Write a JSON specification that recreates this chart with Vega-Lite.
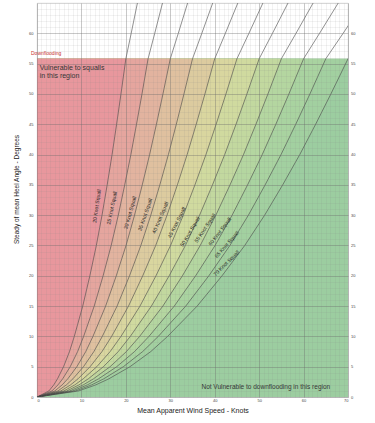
{
  "$schema": "https://vega.github.io/schema/vega-lite/v6.json",
  "width": 311,
  "height": 394,
  "autosize": {"type": "none"},
  "padding": {"left": 37, "top": 3, "right": 27, "bottom": 26},
  "background": "white",
  "config": {
    "font": "Liberation Sans",
    "view": {"stroke": "#cfcfcf", "strokeWidth": 0.8}
  },
  "datasets": {
    "curves": [
      {"S":20,"h":0,"v":0},{"S":20,"h":1,"v":2.68},{"S":20,"h":2,"v":3.78},{"S":20,"h":3,"v":4.62},{"S":20,"h":5,"v":5.98},{"S":20,"h":7.5,"v":7.32},{"S":20,"h":10,"v":8.4},{"S":20,"h":15,"v":10.3},{"S":20,"h":20,"v":11.9},{"S":20,"h":25,"v":13.36},{"S":20,"h":30,"v":14.64},{"S":20,"h":35,"v":15.8},{"S":20,"h":40,"v":16.9},{"S":20,"h":45,"v":17.92},{"S":20,"h":50,"v":18.9},{"S":20,"h":55.8,"v":20},{"S":20,"h":60,"v":21.2},{"S":20,"h":65,"v":22.6},
      {"S":25,"h":0,"v":0},{"S":25,"h":1,"v":3.35},{"S":25,"h":2,"v":4.73},{"S":25,"h":3,"v":5.78},{"S":25,"h":5,"v":7.48},{"S":25,"h":7.5,"v":9.15},{"S":25,"h":10,"v":10.5},{"S":25,"h":15,"v":12.88},{"S":25,"h":20,"v":14.88},{"S":25,"h":25,"v":16.7},{"S":25,"h":30,"v":18.3},{"S":25,"h":35,"v":19.75},{"S":25,"h":40,"v":21.13},{"S":25,"h":45,"v":22.4},{"S":25,"h":50,"v":23.63},{"S":25,"h":55.8,"v":25},{"S":25,"h":60,"v":26.5},{"S":25,"h":65,"v":28.25},
      {"S":30,"h":0,"v":0},{"S":30,"h":1,"v":4.02},{"S":30,"h":2,"v":5.67},{"S":30,"h":3,"v":6.93},{"S":30,"h":5,"v":8.97},{"S":30,"h":7.5,"v":10.98},{"S":30,"h":10,"v":12.6},{"S":30,"h":15,"v":15.45},{"S":30,"h":20,"v":17.85},{"S":30,"h":25,"v":20.04},{"S":30,"h":30,"v":21.96},{"S":30,"h":35,"v":23.7},{"S":30,"h":40,"v":25.35},{"S":30,"h":45,"v":26.88},{"S":30,"h":50,"v":28.35},{"S":30,"h":55.8,"v":30},{"S":30,"h":60,"v":31.8},{"S":30,"h":65,"v":33.9},
      {"S":35,"h":0,"v":0},{"S":35,"h":1,"v":4.69},{"S":35,"h":2,"v":6.62},{"S":35,"h":3,"v":8.09},{"S":35,"h":5,"v":10.47},{"S":35,"h":7.5,"v":12.81},{"S":35,"h":10,"v":14.7},{"S":35,"h":15,"v":18.03},{"S":35,"h":20,"v":20.83},{"S":35,"h":25,"v":23.38},{"S":35,"h":30,"v":25.62},{"S":35,"h":35,"v":27.65},{"S":35,"h":40,"v":29.58},{"S":35,"h":45,"v":31.36},{"S":35,"h":50,"v":33.08},{"S":35,"h":55.8,"v":35},{"S":35,"h":60,"v":37.1},{"S":35,"h":65,"v":39.55},
      {"S":40,"h":0,"v":0},{"S":40,"h":1,"v":5.36},{"S":40,"h":2,"v":7.56},{"S":40,"h":3,"v":9.24},{"S":40,"h":5,"v":11.96},{"S":40,"h":7.5,"v":14.64},{"S":40,"h":10,"v":16.8},{"S":40,"h":15,"v":20.6},{"S":40,"h":20,"v":23.8},{"S":40,"h":25,"v":26.72},{"S":40,"h":30,"v":29.28},{"S":40,"h":35,"v":31.6},{"S":40,"h":40,"v":33.8},{"S":40,"h":45,"v":35.84},{"S":40,"h":50,"v":37.8},{"S":40,"h":55.8,"v":40},{"S":40,"h":60,"v":42.4},{"S":40,"h":65,"v":45.2},
      {"S":45,"h":0,"v":0},{"S":45,"h":1,"v":6.03},{"S":45,"h":2,"v":8.51},{"S":45,"h":3,"v":10.4},{"S":45,"h":5,"v":13.46},{"S":45,"h":7.5,"v":16.47},{"S":45,"h":10,"v":18.9},{"S":45,"h":15,"v":23.18},{"S":45,"h":20,"v":26.78},{"S":45,"h":25,"v":30.06},{"S":45,"h":30,"v":32.94},{"S":45,"h":35,"v":35.55},{"S":45,"h":40,"v":38.03},{"S":45,"h":45,"v":40.32},{"S":45,"h":50,"v":42.53},{"S":45,"h":55.8,"v":45},{"S":45,"h":60,"v":47.7},{"S":45,"h":65,"v":50.85},
      {"S":50,"h":0,"v":0},{"S":50,"h":1,"v":6.7},{"S":50,"h":2,"v":9.45},{"S":50,"h":3,"v":11.55},{"S":50,"h":5,"v":14.95},{"S":50,"h":7.5,"v":18.3},{"S":50,"h":10,"v":21},{"S":50,"h":15,"v":25.75},{"S":50,"h":20,"v":29.75},{"S":50,"h":25,"v":33.4},{"S":50,"h":30,"v":36.6},{"S":50,"h":35,"v":39.5},{"S":50,"h":40,"v":42.25},{"S":50,"h":45,"v":44.8},{"S":50,"h":50,"v":47.25},{"S":50,"h":55.8,"v":50},{"S":50,"h":60,"v":53},{"S":50,"h":65,"v":56.5},
      {"S":55,"h":0,"v":0},{"S":55,"h":1,"v":7.37},{"S":55,"h":2,"v":10.4},{"S":55,"h":3,"v":12.71},{"S":55,"h":5,"v":16.45},{"S":55,"h":7.5,"v":20.13},{"S":55,"h":10,"v":23.1},{"S":55,"h":15,"v":28.33},{"S":55,"h":20,"v":32.73},{"S":55,"h":25,"v":36.74},{"S":55,"h":30,"v":40.26},{"S":55,"h":35,"v":43.45},{"S":55,"h":40,"v":46.48},{"S":55,"h":45,"v":49.28},{"S":55,"h":50,"v":51.98},{"S":55,"h":55.8,"v":55},{"S":55,"h":60,"v":58.3},{"S":55,"h":65,"v":62.15},
      {"S":60,"h":0,"v":0},{"S":60,"h":1,"v":8.04},{"S":60,"h":2,"v":11.34},{"S":60,"h":3,"v":13.86},{"S":60,"h":5,"v":17.94},{"S":60,"h":7.5,"v":21.96},{"S":60,"h":10,"v":25.2},{"S":60,"h":15,"v":30.9},{"S":60,"h":20,"v":35.7},{"S":60,"h":25,"v":40.08},{"S":60,"h":30,"v":43.92},{"S":60,"h":35,"v":47.4},{"S":60,"h":40,"v":50.7},{"S":60,"h":45,"v":53.76},{"S":60,"h":50,"v":56.7},{"S":60,"h":55.8,"v":60},{"S":60,"h":60,"v":63.6},{"S":60,"h":65,"v":67.8},
      {"S":65,"h":0,"v":0},{"S":65,"h":1,"v":8.71},{"S":65,"h":2,"v":12.29},{"S":65,"h":3,"v":15.02},{"S":65,"h":5,"v":19.44},{"S":65,"h":7.5,"v":23.79},{"S":65,"h":10,"v":27.3},{"S":65,"h":15,"v":33.48},{"S":65,"h":20,"v":38.68},{"S":65,"h":25,"v":43.42},{"S":65,"h":30,"v":47.58},{"S":65,"h":35,"v":51.35},{"S":65,"h":40,"v":54.93},{"S":65,"h":45,"v":58.24},{"S":65,"h":50,"v":61.43},{"S":65,"h":55.8,"v":65},{"S":65,"h":60,"v":68.9},{"S":65,"h":65,"v":73.45},
      {"S":70,"h":0,"v":0},{"S":70,"h":1,"v":9.38},{"S":70,"h":2,"v":13.23},{"S":70,"h":3,"v":16.17},{"S":70,"h":5,"v":20.93},{"S":70,"h":7.5,"v":25.62},{"S":70,"h":10,"v":29.4},{"S":70,"h":15,"v":36.05},{"S":70,"h":20,"v":41.65},{"S":70,"h":25,"v":46.76},{"S":70,"h":30,"v":51.24},{"S":70,"h":35,"v":55.3},{"S":70,"h":40,"v":59.15},{"S":70,"h":45,"v":62.72},{"S":70,"h":50,"v":66.15},{"S":70,"h":55.8,"v":70},{"S":70,"h":60,"v":74.2},{"S":70,"h":65,"v":79.1}
    ],
    "labels": [
      {"S":20,"label":"20 Knot Squall","v":13.4,"h":31.5},
      {"S":25,"label":"25 Knot Squall","v":16.8,"h":31.2},
      {"S":30,"label":"30 Knot Squall","v":20.9,"h":30.4},
      {"S":35,"label":"35 Knot Squall","v":24.3,"h":30.1},
      {"S":40,"label":"40 Knot Squall","v":27.7,"h":29.6},
      {"S":45,"label":"45 Knot Squall","v":31.4,"h":28.8},
      {"S":50,"label":"50 Knot Squall","v":34.4,"h":27.3},
      {"S":55,"label":"55 Knot Squall","v":37.8,"h":27.9},
      {"S":60,"label":"60 Knot Squall","v":41.1,"h":27.3},
      {"S":65,"label":"65 Knot Squall","v":42.7,"h":25.2},
      {"S":70,"label":"70 Knot Squall","v":42.6,"h":22.1}
    ]
  },
  "layer": [
    {
      "data": {"values": [{}]},
      "mark": {"type": "rect", "color": "#9ccda0"},
      "encoding": {
        "x": {"datum": 0, "type": "quantitative", "scale": {"domain": [0, 70], "nice": false},
          "axis": {"orient": "top", "values": [0,1,2,3,4,5,6,7,8,9,10,11,12,13,14,15,16,17,18,19,20,21,22,23,24,25,26,27,28,29,30,31,32,33,34,35,36,37,38,39,40,41,42,43,44,45,46,47,48,49,50,51,52,53,54,55,56,57,58,59,60,61,62,63,64,65,66,67,68,69,70],
            "grid": true, "gridColor": "#888", "gridOpacity": 0.28, "gridWidth": 0.4, "labels": false, "ticks": false, "domain": false, "title": null, "zindex": 1}},
        "x2": {"datum": 70},
        "y": {"datum": 0, "type": "quantitative", "scale": {"domain": [0, 65], "nice": false},
          "axis": {"orient": "right", "values": [0,1,2,3,4,5,6,7,8,9,10,11,12,13,14,15,16,17,18,19,20,21,22,23,24,25,26,27,28,29,30,31,32,33,34,35,36,37,38,39,40,41,42,43,44,45,46,47,48,49,50,51,52,53,54,55,56,57,58,59,60,61,62,63,64,65],
            "grid": true, "gridColor": "#888", "gridOpacity": 0.28, "gridWidth": 0.4, "ticks": false, "domain": false, "title": null, "zindex": 1,
            "labelExpr": "datum.value % 5 === 0 && datum.value < 65 ? datum.label : ''", "labelOverlap": false,
            "labelFontSize": 4, "labelColor": "#444", "labelPadding": 2.5}},
        "y2": {"datum": 55.8}
      }
    },
    {
      "data": {"name": "curves"},
      "transform": [{"filter": "datum.h <= 55.8"}],
      "encoding": {
        "y": {"field": "h", "type": "quantitative", "scale": {"domain": [0, 65], "nice": false}, "axis": null},
        "x": {"field": "v", "type": "quantitative", "scale": {"domain": [0, 70], "nice": false}, "axis": null},
        "x2": {"datum": 0}
      },
      "layer": [
        {"transform": [{"filter": "datum.S == 70"}], "mark": {"type": "area", "orient": "horizontal", "color": "#a2d0a0"}},
        {"transform": [{"filter": "datum.S == 65"}], "mark": {"type": "area", "orient": "horizontal", "color": "#a9d3a0"}},
        {"transform": [{"filter": "datum.S == 60"}], "mark": {"type": "area", "orient": "horizontal", "color": "#b4d6a0"}},
        {"transform": [{"filter": "datum.S == 55"}], "mark": {"type": "area", "orient": "horizontal", "color": "#c2d89f"}},
        {"transform": [{"filter": "datum.S == 50"}], "mark": {"type": "area", "orient": "horizontal", "color": "#d0da9f"}},
        {"transform": [{"filter": "datum.S == 45"}], "mark": {"type": "area", "orient": "horizontal", "color": "#d9d69f"}},
        {"transform": [{"filter": "datum.S == 40"}], "mark": {"type": "area", "orient": "horizontal", "color": "#dccb9f"}},
        {"transform": [{"filter": "datum.S == 35"}], "mark": {"type": "area", "orient": "horizontal", "color": "#dfc09f"}},
        {"transform": [{"filter": "datum.S == 30"}], "mark": {"type": "area", "orient": "horizontal", "color": "#e2b39f"}},
        {"transform": [{"filter": "datum.S == 25"}], "mark": {"type": "area", "orient": "horizontal", "color": "#e5a59e"}},
        {"transform": [{"filter": "datum.S == 20"}], "mark": {"type": "area", "orient": "horizontal", "color": "#e8979d"}}
      ]
    },
    {
      "data": {"name": "curves"},
      "mark": {"type": "line", "color": "#444", "strokeWidth": 0.6, "clip": true},
      "encoding": {
        "x": {"field": "v", "type": "quantitative", "scale": {"domain": [0, 70], "nice": false},
          "axis": {"orient": "bottom", "values": [0,10,20,30,40,50,60,70], "grid": true, "gridColor": "#666", "gridOpacity": 0.5, "gridWidth": 0.6,
            "ticks": false, "domain": false, "labelFontSize": 4, "labelColor": "#444", "labelPadding": 1, "zindex": 1,
            "title": "Mean Apparent Wind Speed - Knots", "titleFontSize": 7, "titleFontWeight": "normal", "titleColor": "#222", "titlePadding": 4}},
        "y": {"field": "h", "type": "quantitative", "scale": {"domain": [0, 65], "nice": false},
          "axis": {"orient": "left", "values": [0,5,10,15,20,25,30,35,40,45,50,55,60], "grid": true, "gridColor": "#666", "gridOpacity": 0.5, "gridWidth": 0.6,
            "ticks": false, "domain": false, "labelFontSize": 4, "labelColor": "#444", "labelPadding": 4, "zindex": 1,
            "title": "Steady of mean Heel Angle - Degrees", "titleFontSize": 6.5, "titleFontWeight": "normal", "titleColor": "#222", "titleX": -18, "titleY": 186}},
        "detail": {"field": "S", "type": "nominal"},
        "order": {"field": "h", "type": "quantitative"}
      }
    },
    {
      "data": {"name": "labels"},
      "mark": {"type": "text", "fontSize": 5.2, "color": "#222", "align": "center", "baseline": "middle"},
      "encoding": {
        "x": {"field": "v", "type": "quantitative", "scale": {"domain": [0, 70], "nice": false}, "axis": null},
        "y": {"field": "h", "type": "quantitative", "scale": {"domain": [0, 65], "nice": false}, "axis": null},
        "text": {"field": "label"},
        "angle": {"field": "S", "type": "quantitative", "scale": {"domain": [20, 70], "range": [278, 315]}, "legend": null}
      }
    },
    {
      "data": {"values": [{"t": "Downflooding"}]},
      "mark": {"type": "text", "fontSize": 5, "color": "#c8302c", "align": "left", "baseline": "bottom", "dx": -6, "dy": -2.5},
      "encoding": {
        "x": {"datum": 0, "type": "quantitative", "scale": {"domain": [0, 70], "nice": false}, "axis": null},
        "y": {"datum": 55.8, "type": "quantitative", "scale": {"domain": [0, 65], "nice": false}, "axis": null},
        "text": {"field": "t"}
      }
    },
    {
      "data": {"values": [{"t": ["Vulnerable to squalls", "in this region"]}]},
      "mark": {"type": "text", "fontSize": 7, "lineHeight": 8.3, "color": "#333", "align": "left", "baseline": "top"},
      "encoding": {
        "x": {"datum": 0.6, "type": "quantitative", "scale": {"domain": [0, 70], "nice": false}, "axis": null},
        "y": {"datum": 55, "type": "quantitative", "scale": {"domain": [0, 65], "nice": false}, "axis": null},
        "text": {"field": "t"}
      }
    },
    {
      "data": {"values": [{"t": "Not Vulnerable to downflooding in this region"}]},
      "mark": {"type": "text", "fontSize": 6.5, "color": "#333", "align": "center", "baseline": "middle"},
      "encoding": {
        "x": {"datum": 51.5, "type": "quantitative", "scale": {"domain": [0, 70], "nice": false}, "axis": null},
        "y": {"datum": 1.7, "type": "quantitative", "scale": {"domain": [0, 65], "nice": false}, "axis": null},
        "text": {"field": "t"}
      }
    }
  ],
  "resolve": {"axis": {"x": "independent", "y": "independent"}}
}
